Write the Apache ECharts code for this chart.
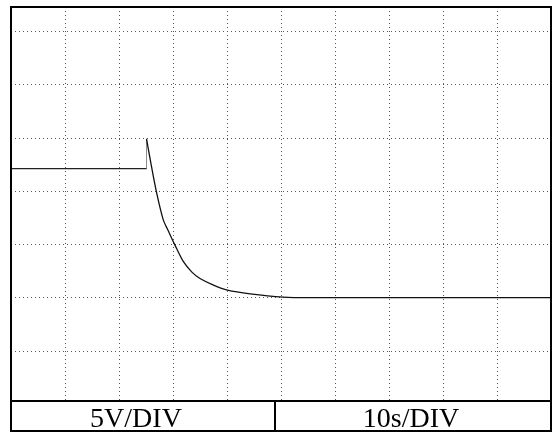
<!DOCTYPE html>
<html>
<head>
<meta charset="utf-8">
<script src="https://cdn.jsdelivr.net/npm/echarts@6/dist/echarts.min.js"></script>
<style>
  html, body { margin: 0; padding: 0; background: #fff; }
  #chart { width: 560px; height: 432px; }
</style>
</head>
<body>
<div id="chart"></div>
<script>
// Scope trace: time in seconds (10 s per division), voltage in volts (5 V per division)
// Steady level before the step
const preTime = [0, 25.1];
const preVolts = [22.1, 22.1];
// Spike and decay after the step
const decayTime = [25.1, 25.8, 26.9, 28.2, 29.1, 30.3, 31.9, 33.5, 35.0, 37.4, 40.1, 44.3, 50.4, 55.4, 100];
const decayVolts = [24.9, 22.9, 20.0, 17.3, 16.3, 15.0, 13.4, 12.4, 11.8, 11.2, 10.7, 10.35, 10.05, 10.0, 10.0];

// Horizontal graticule levels (volts) and scale captions
const voltGrid = [5, 10, 15, 20, 25, 30, 35];
const scaleLabels = ['5V/DIV', '10s/DIV'];

const chart = echarts.init(document.getElementById('chart'), null, { renderer: 'canvas' });

const dotted = { color: '#555', width: 1, type: [1, 3] };
const pairs = (xs, ys) => xs.map((x, i) => [x, ys[i]]);

// Vertical edge joining the steady level to the spike
const edge = [
  [preTime[preTime.length - 1], preVolts[preVolts.length - 1]],
  [decayTime[0], decayVolts[0]]
];

chart.setOption({
  animation: false,
  backgroundColor: '#fff',
  grid: { left: 11, top: 7, width: 540, height: 394, containLabel: false },
  xAxis: {
    type: 'value', min: 0, max: 100, interval: 10,
    axisLine: { show: false }, axisTick: { show: false }, axisLabel: { show: false },
    splitLine: { show: true, lineStyle: dotted }
  },
  yAxis: {
    type: 'value', min: 0.31, max: 37.27,
    axisLine: { show: false }, axisTick: { show: false }, axisLabel: { show: false },
    splitLine: { show: false }
  },
  series: [
    {
      type: 'line',
      data: pairs(preTime, preVolts),
      symbol: 'none',
      lineStyle: { color: '#222', width: 1.2 },
      z: 5,
      markLine: {
        silent: true,
        symbol: ['none', 'none'],
        label: { show: false },
        lineStyle: dotted,
        emphasis: { disabled: true },
        data: voltGrid.map(v => ({ yAxis: v }))
      }
    },
    {
      type: 'line',
      data: edge,
      symbol: 'none',
      lineStyle: { color: '#888', width: 1 },
      z: 4
    },
    {
      type: 'line',
      data: pairs(decayTime, decayVolts),
      symbol: 'none',
      smooth: 0.3,
      lineStyle: { color: '#111', width: 1.3 },
      z: 5
    }
  ],
  graphic: [
    { type: 'rect', z: 100, shape: { x: 11, y: 7, width: 540, height: 424 },
      style: { fill: 'none', stroke: '#000', lineWidth: 2 } },
    { type: 'line', z: 100, shape: { x1: 11, y1: 401, x2: 551, y2: 401 },
      style: { stroke: '#000', lineWidth: 2 } },
    { type: 'line', z: 100, shape: { x1: 275, y1: 401, x2: 275, y2: 431 },
      style: { stroke: '#000', lineWidth: 2 } },
    { type: 'text', z: 100, x: 136, y: 419.5,
      style: { text: scaleLabels[0], font: '28px "Liberation Serif", "DejaVu Serif", serif',
               fill: '#000', align: 'center', verticalAlign: 'middle' } },
    { type: 'text', z: 100, x: 411, y: 419.5,
      style: { text: scaleLabels[1], font: '28px "Liberation Serif", "DejaVu Serif", serif',
               fill: '#000', align: 'center', verticalAlign: 'middle' } }
  ]
});
</script>
</body>
</html>
